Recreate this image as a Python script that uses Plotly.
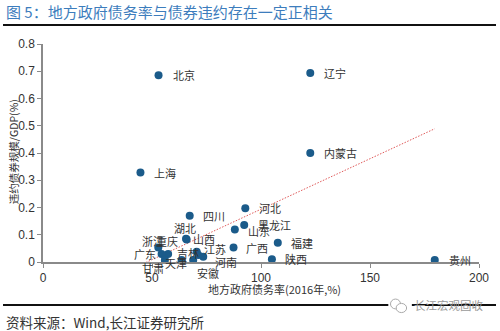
import plotly.graph_objects as go

# Provinces: local government debt ratio (2016, %) vs defaulted bonds / GDP (%)
provinces = ["北京", "上海", "辽宁", "内蒙古", "贵州", "陕西", "福建", "四川",
             "河北", "黑龙江", "山东", "广西", "湖北", "山西", "浙江", "重庆",
             "广东", "甘肃", "天津", "吉林", "江苏", "河南", "安徽"]
debt_ratio = [53.0, 44.7, 122.6, 122.6, 179.7, 105.0, 107.7, 67.3,
              92.8, 92.3, 88.0, 87.4, 65.6, 65.9, 52.9, 57.4,
              54.4, 55.9, 63.6, 70.5, 71.2, 73.5, 68.9]
default_gdp = [0.685, 0.328, 0.694, 0.400, 0.007, 0.010, 0.071, 0.170,
               0.197, 0.136, 0.119, 0.053, 0.085, 0.083, 0.053, 0.029,
               0.029, 0.007, 0.007, 0.038, 0.026, 0.019, 0.007]

# Linear trend line end points
trend_x = [44.7, 179.7]
trend_y = [-0.011, 0.489]

x_ticks = [0, 50, 100, 150, 200]
y_ticks = [0, 0.1, 0.2, 0.3, 0.4, 0.5, 0.6, 0.7, 0.8]

# Label placement (pixel shift of the label's left edge from its point)
label_shift = {
    "北京": (12, 0), "上海": (12, 0), "辽宁": (12, 0), "内蒙古": (12, 0),
    "贵州": (12, 0), "陕西": (11, 0), "福建": (11, 0), "四川": (11, 0),
    "河北": (12, 0), "黑龙江": (12, 0), "山东": (11, -1), "广西": (10, 0),
    "湖北": (-14, 11), "山西": (4, 0), "浙江": (-18, 7), "重庆": (-14, 13),
    "广东": (-30, 0), "甘肃": (-25, -8), "天津": (-19, -3), "吉林": (-22, -1),
    "江苏": (4, 6), "河南": (10, -5), "安徽": (2, -13),
}

CJK = "Noto Sans CJK SC"
SANS = "Liberation Sans, Arial, " + CJK

fig = go.Figure()

fig.add_trace(go.Scatter(
    x=trend_x, y=trend_y, mode="lines",
    line=dict(color="#e05a5a", width=1, dash="1.5px,1.5px"),
    hoverinfo="skip", showlegend=False,
))

fig.add_trace(go.Scatter(
    x=debt_ratio, y=default_gdp, mode="markers",
    marker=dict(color="#1b5b8a", size=8),
    text=provinces, showlegend=False,
))

for name, xv, yv in zip(provinces, debt_ratio, default_gdp):
    sx, sy = label_shift[name]
    fig.add_annotation(
        x=xv, y=yv, xref="x", yref="y", text=name, showarrow=False,
        xanchor="left", yanchor="middle", xshift=sx, yshift=sy,
        font=dict(family=CJK, size=11, color="#333333"),
    )

# Axis titles
fig.add_annotation(
    x=0.532, y=-0.124, xref="paper", yref="paper", showarrow=False,
    text="地方政府债务率(2016年,%)", xanchor="center", yanchor="middle",
    font=dict(family=CJK, size=11, color="#333333"),
)
fig.add_annotation(
    x=-0.066, y=0.505, xref="paper", yref="paper", showarrow=False,
    text="违约债券规模/GDP(%)", textangle=-90, xanchor="center", yanchor="middle",
    font=dict(family=CJK, size=10.5, color="#333333"),
)

# Header and footer
fig.add_annotation(
    x=-0.0894, y=1.147, xref="paper", yref="paper", showarrow=False,
    text="图 5：地方政府债务率与债券违约存在一定正相关",
    xanchor="left", yanchor="middle",
    font=dict(family=CJK, size=15, color="#3d7dbd"),
)
fig.add_annotation(
    x=-0.0894, y=-0.275, xref="paper", yref="paper", showarrow=False,
    text="资料来源：Wind,长江证券研究所", xanchor="left", yanchor="middle",
    font=dict(family=CJK, size=13.5, color="#333333"),
)
fig.add_annotation(
    x=0.931, y=-0.197, xref="paper", yref="paper", showarrow=False,
    text="长江宏观固收", xanchor="center", yanchor="middle",
    font=dict(family=CJK, size=11.5, color="#9a9a9a"),
)

fig.add_shape(type="line", xref="paper", yref="paper",
              x0=-0.0917, x1=1.039, y0=1.087, y1=1.087,
              line=dict(color="#111111", width=2))
fig.add_shape(type="line", xref="paper", yref="paper",
              x0=-0.0917, x1=1.039, y0=-0.197, y1=-0.197,
              line=dict(color="#111111", width=2))
# small chat-bubble mark beside the footer caption
fig.add_shape(type="rect", xref="paper", yref="paper",
              x0=0.792, x1=0.846, y0=-0.24, y1=-0.155,
              line=dict(width=0), fillcolor="white")
fig.add_shape(type="circle", xref="paper", yref="paper",
              x0=0.797, x1=0.820, y0=-0.215, y1=-0.17,
              line=dict(color="#aaaaaa", width=1))
fig.add_shape(type="circle", xref="paper", yref="paper",
              x0=0.810, x1=0.834, y0=-0.232, y1=-0.19,
              line=dict(color="#aaaaaa", width=1), fillcolor="white")

fig.update_xaxes(
    range=[0, 200], tickvals=x_ticks, ticktext=[str(v) for v in x_ticks],
    showgrid=False, zeroline=False, showline=True, linecolor="#8a8a8a",
    linewidth=1.5, ticks="outside", ticklen=4, tickcolor="#8a8a8a",
    tickfont=dict(family=SANS, size=12, color="#333333"),
)
fig.update_yaxes(
    range=[0, 0.8], tickvals=y_ticks, ticktext=[("0" if v == 0 else f"{v:.1f}") for v in y_ticks],
    showgrid=False, zeroline=False, showline=True, linecolor="#8a8a8a",
    linewidth=1.5, ticks="outside", ticklen=4, tickcolor="#8a8a8a",
    tickfont=dict(family=SANS, size=12, color="#333333"),
)

fig.update_layout(
    width=500, height=331,
    margin=dict(l=43, r=21, t=44, b=69),
    paper_bgcolor="white", plot_bgcolor="white",
    showlegend=False,
)

fig.write_html("out.html", config={"displayModeBar": False})
